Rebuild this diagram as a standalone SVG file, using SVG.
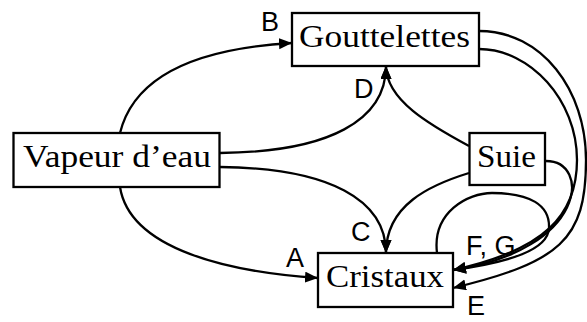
<svg xmlns="http://www.w3.org/2000/svg" width="587" height="322" viewBox="0 0 587 322">
<style>
.box{fill:#fff;stroke:#000;stroke-width:2.3}
.nt{font-family:"Liberation Serif","Times New Roman",serif;font-size:32px;fill:#000}
.lb{font-family:"Liberation Sans",Arial,sans-serif;font-size:27px;fill:#000}
.c{fill:none;stroke:#000;stroke-width:2.3;marker-end:url(#ah)}
</style>
<defs>
<marker id="ah" markerUnits="userSpaceOnUse" markerWidth="14" markerHeight="12" refX="13" refY="5.5" orient="auto">
<path d="M0,0 L13,5.5 L0,11 Z" fill="#000"/>
</marker>
</defs>
<rect width="587" height="322" fill="#fff"/>
<g id="connectors">
<path class="c" d="M120,133 C135,72 205,48 292,43"/>
<path class="c" d="M120,187 C130,250 230,272 318,278"/>
<path class="c" d="M220,153 C330,152 386,120 386,66"/>
<path class="c" d="M220,167 C330,168 386,200 386,253"/>
<path class="c" d="M469,146 C430,125 386,100 386,66"/>
<path class="c" d="M469,173 C430,185 386,205 386,253"/>
<path class="c" d="M545,161 C592,160 587,250 453,270"/>
<path class="c" d="M437,253 C432,212 468,193 492,193 C530,193 550,205 549,228 C548,250 510,262 453,270"/>
<path class="c" d="M479,49 C530,49 577,100 577,160 C577,215 545,250 453,270"/>
<path class="c" d="M479,31 C542,31 586,90 586,160 C586,240 560,262 453,288"/>
</g>
<g id="gouttelettes">
<rect class="box" x="292" y="13" width="187" height="53"/>
<text class="nt" x="299" y="47" textLength="171" lengthAdjust="spacingAndGlyphs">Gouttelettes</text>
</g>
<g id="vapeur">
<rect class="box" x="13.5" y="133" width="206" height="54"/>
<text class="nt" x="23" y="167" textLength="188" lengthAdjust="spacingAndGlyphs">Vapeur d’eau</text>
</g>
<g id="suie">
<rect class="box" x="469.5" y="133" width="75.5" height="52"/>
<text class="nt" x="477" y="167" textLength="59" lengthAdjust="spacingAndGlyphs">Suie</text>
</g>
<g id="cristaux">
<rect class="box" x="318" y="253" width="135" height="54"/>
<text class="nt" x="326" y="287" textLength="118" lengthAdjust="spacingAndGlyphs">Cristaux</text>
</g>
<g id="labels">
<text class="lb" x="261" y="31">B</text>
<text class="lb" x="354" y="98">D</text>
<text class="lb" x="351" y="241">C</text>
<text class="lb" x="286" y="267">A</text>
<text class="lb" x="466" y="255">F, G</text>
<text class="lb" x="467" y="315">E</text>
</g>
</svg>
